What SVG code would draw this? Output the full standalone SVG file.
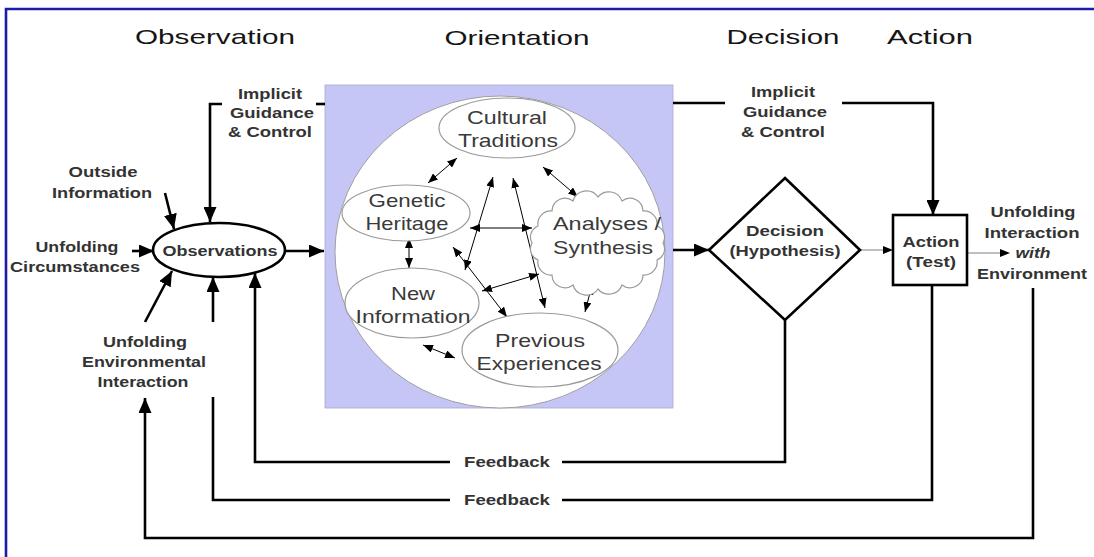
<svg xmlns="http://www.w3.org/2000/svg" width="1094" height="557" viewBox="0 0 1094 557">
<defs>
<style>
.tt{font-family:"Liberation Sans",Arial,sans-serif;font-size:21px;fill:#151515;text-anchor:middle}
.lb{font-family:"Liberation Sans",Arial,sans-serif;font-size:14.5px;font-weight:bold;fill:#333;text-anchor:middle}
.in{font-family:"Liberation Sans",Arial,sans-serif;font-size:19px;fill:#3a3a3a;text-anchor:middle}
.thick{fill:none;stroke:#000;stroke-width:2.6}
.thin{fill:none;stroke:#000;stroke-width:1}
.gray{fill:none;stroke:#808080;stroke-width:1}
.shape{fill:#fff;stroke:#9a9a9a;stroke-width:1.2}
</style>
<marker id="big" markerUnits="userSpaceOnUse" markerWidth="15" markerHeight="13" refX="15" refY="6.5" orient="auto"><path d="M0,0 L15,6.5 L0,13 z" fill="#000"/></marker>
<marker id="sm" markerUnits="userSpaceOnUse" markerWidth="10" markerHeight="8" refX="10" refY="4" orient="auto-start-reverse"><path d="M0,0 L10,4 L0,8 z" fill="#000"/></marker>
</defs>
<rect x="0" y="0" width="1094" height="557" fill="#fff"/>
<path d="M6,557 V9 H1094" fill="none" stroke="#1c1ca6" stroke-width="2.6"/>

<g id="titles">
<text class="tt" x="215" y="44" textLength="160" lengthAdjust="spacingAndGlyphs">Observation</text>
<text class="tt" x="517" y="45" textLength="145" lengthAdjust="spacingAndGlyphs">Orientation</text>
<text class="tt" x="783" y="44" textLength="113" lengthAdjust="spacingAndGlyphs">Decision</text>
<text class="tt" x="930" y="44" textLength="86" lengthAdjust="spacingAndGlyphs">Action</text>
</g>

<g id="orientation-box">
<rect x="325" y="85" width="348" height="323" fill="#c6c6f6" stroke="#a8a8d0" stroke-width="0.8"/>
<ellipse cx="500" cy="252" rx="165" ry="156" fill="#fff" stroke="#a0a0a0" stroke-width="1"/>
</g>

<g id="connectors">
<path class="thick" d="M222,104 H210 V222" marker-end="url(#big)"/>
<path class="thick" d="M316,104 H325"/>
<path class="thick" d="M165,193 L174,229" marker-end="url(#big)"/>
<path class="thick" d="M132,251 H154" marker-end="url(#big)"/>
<path class="thick" d="M285,251 H324" marker-end="url(#big)"/>
<path class="thick" d="M145,322 L172,271" marker-end="url(#big)"/>
<path class="thick" d="M213,322 V277" marker-end="url(#big)"/>
<path class="thick" d="M785,320 V462 H562"/>
<path class="thick" d="M450,462 H255 V273" marker-end="url(#big)"/>
<path class="thick" d="M932,285 V500 H562"/>
<path class="thick" d="M450,500 H213 V397"/>
<path class="thick" d="M1033,288 V538 H145 V398" marker-end="url(#big)"/>
<path class="thick" d="M673,103 H725"/>
<path class="thick" d="M842,103 H933 V215" marker-end="url(#big)"/>
<path class="thick" d="M673,250 H709" marker-end="url(#big)"/>
<path class="gray" d="M860,250 H884"/>
<path d="M883,246 L893,250 L883,254 z" fill="#000"/>
<path class="gray" d="M967,253 H1001"/>
<path d="M1000,249 L1010,253 L1000,257 z" fill="#000"/>
<path class="thin" d="M457,158 L428,183" marker-start="url(#sm)" marker-end="url(#sm)"/>
<path class="thin" d="M543,167 L578,197" marker-start="url(#sm)" marker-end="url(#sm)"/>
<path class="thin" d="M409,238 L409,268" marker-start="url(#sm)" marker-end="url(#sm)"/>
<path class="thin" d="M470,228 L532,228" marker-start="url(#sm)" marker-end="url(#sm)"/>
<path class="thin" d="M493,177 L465,270" marker-start="url(#sm)" marker-end="url(#sm)"/>
<path class="thin" d="M513,178 L545,308" marker-start="url(#sm)" marker-end="url(#sm)"/>
<path class="thin" d="M453,247 L507,317" marker-start="url(#sm)" marker-end="url(#sm)"/>
<path class="thin" d="M482,291 L539,274" marker-start="url(#sm)" marker-end="url(#sm)"/>
<path class="thin" d="M592,285 L585,312" marker-start="url(#sm)" marker-end="url(#sm)"/>
<path class="thin" d="M423,345 L455,358" marker-start="url(#sm)" marker-end="url(#sm)"/>
</g>

<g id="labels">
<text class="lb" x="270" y="99" textLength="64" lengthAdjust="spacingAndGlyphs">Implicit</text>
<text class="lb" x="272" y="118" textLength="84" lengthAdjust="spacingAndGlyphs">Guidance</text>
<text class="lb" x="270" y="137" textLength="84" lengthAdjust="spacingAndGlyphs">&amp; Control</text>
<text class="lb" x="103" y="177" textLength="69" lengthAdjust="spacingAndGlyphs">Outside</text>
<text class="lb" x="102" y="198" textLength="100" lengthAdjust="spacingAndGlyphs">Information</text>
<text class="lb" x="77" y="252" textLength="83" lengthAdjust="spacingAndGlyphs">Unfolding</text>
<text class="lb" x="75" y="272" textLength="130" lengthAdjust="spacingAndGlyphs">Circumstances</text>
<text class="lb" x="145" y="347" textLength="84" lengthAdjust="spacingAndGlyphs">Unfolding</text>
<text class="lb" x="144" y="367" textLength="124" lengthAdjust="spacingAndGlyphs">Environmental</text>
<text class="lb" x="143" y="387" textLength="91" lengthAdjust="spacingAndGlyphs">Interaction</text>
<text class="lb" x="507" y="467" textLength="86" lengthAdjust="spacingAndGlyphs">Feedback</text>
<text class="lb" x="507" y="505" textLength="86" lengthAdjust="spacingAndGlyphs">Feedback</text>
<text class="lb" x="783" y="97" textLength="64" lengthAdjust="spacingAndGlyphs">Implicit</text>
<text class="lb" x="785" y="117" textLength="84" lengthAdjust="spacingAndGlyphs">Guidance</text>
<text class="lb" x="783" y="137" textLength="84" lengthAdjust="spacingAndGlyphs">&amp; Control</text>
<text class="lb" x="1033" y="217" textLength="85" lengthAdjust="spacingAndGlyphs">Unfolding</text>
<text class="lb" x="1032" y="238" textLength="95" lengthAdjust="spacingAndGlyphs">Interaction</text>
<text class="lb" x="1033" y="258" textLength="35" lengthAdjust="spacingAndGlyphs" font-style="italic">with</text>
<text class="lb" x="1032" y="279" textLength="110" lengthAdjust="spacingAndGlyphs">Environment</text>
</g>

<g id="observations">
<ellipse cx="219" cy="250" rx="66" ry="27" fill="#fff" stroke="#000" stroke-width="2.6"/>
<text class="lb" x="220" y="256" textLength="115" lengthAdjust="spacingAndGlyphs">Observations</text>
</g>

<g id="cultural-traditions">
<ellipse class="shape" cx="507" cy="128" rx="68" ry="30"/>
<text class="in" x="507" y="124" textLength="80" lengthAdjust="spacingAndGlyphs">Cultural</text>
<text class="in" x="508" y="147" textLength="100" lengthAdjust="spacingAndGlyphs">Traditions</text>
</g>

<g id="genetic-heritage">
<ellipse class="shape" cx="406" cy="213" rx="64" ry="28"/>
<text class="in" x="407" y="207" textLength="77" lengthAdjust="spacingAndGlyphs">Genetic</text>
<text class="in" x="407" y="230" textLength="83" lengthAdjust="spacingAndGlyphs">Heritage</text>
</g>

<g id="analyses-synthesis">
<path class="shape" d="M663,243 A12,12 0 0 1 657,260 A13,13 0 0 1 643,275 A13,13 0 0 1 622,285 A14,14 0 0 1 598,289 A14,14 0 0 1 573,285 A13,13 0 0 1 552,275 A13,13 0 0 1 538,260 A12,12 0 0 1 532,243 A12,12 0 0 1 538,226 A13,13 0 0 1 552,211 A13,13 0 0 1 573,201 A14,14 0 0 1 598,197 A14,14 0 0 1 622,201 A13,13 0 0 1 643,211 A13,13 0 0 1 657,226 A12,12 0 0 1 663,243 z"/>
<text class="in" x="607" y="230" textLength="108" lengthAdjust="spacingAndGlyphs">Analyses /</text>
<text class="in" x="603" y="254" textLength="100" lengthAdjust="spacingAndGlyphs">Synthesis</text>
</g>

<g id="new-information">
<ellipse class="shape" cx="412" cy="303" rx="67" ry="35"/>
<text class="in" x="413" y="300" textLength="44" lengthAdjust="spacingAndGlyphs">New</text>
<text class="in" x="413" y="323" textLength="115" lengthAdjust="spacingAndGlyphs">Information</text>
</g>

<g id="previous-experiences">
<ellipse class="shape" cx="540" cy="350" rx="78" ry="37"/>
<text class="in" x="540" y="347" textLength="90" lengthAdjust="spacingAndGlyphs">Previous</text>
<text class="in" x="539" y="370" textLength="125" lengthAdjust="spacingAndGlyphs">Experiences</text>
</g>

<g id="decision">
<polygon points="785,178 860,250 785,320 709,250" fill="#fff" stroke="#000" stroke-width="2.6"/>
<text class="lb" x="785" y="236" textLength="78" lengthAdjust="spacingAndGlyphs">Decision</text>
<text class="lb" x="785" y="256" textLength="111" lengthAdjust="spacingAndGlyphs">(Hypothesis)</text>
</g>

<g id="action">
<rect x="893" y="215" width="74" height="70" fill="#fff" stroke="#000" stroke-width="2.6"/>
<text class="lb" x="931" y="247" textLength="57" lengthAdjust="spacingAndGlyphs">Action</text>
<text class="lb" x="931" y="267" textLength="50" lengthAdjust="spacingAndGlyphs">(Test)</text>
</g>
</svg>
